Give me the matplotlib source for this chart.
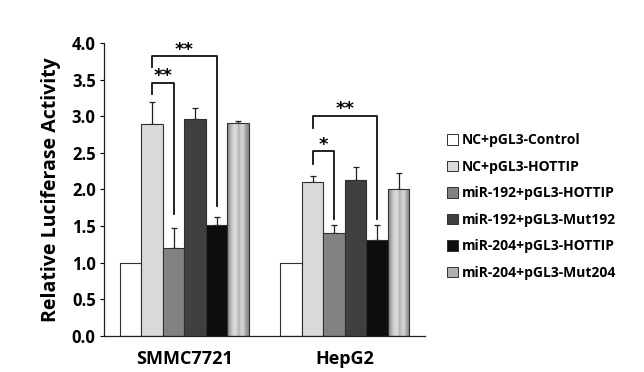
import numpy as np
import matplotlib
matplotlib.use("Agg")
import matplotlib.pyplot as plt
from matplotlib.patches import Patch

plt.rcParams['font.family'] = ['Open Sans', 'DejaVu Sans']
plt.rcParams['font.weight'] = 'bold'

cells = ["SMMC7721", "HepG2"]
groups = ["NC+pGL3-Control", "NC+pGL3-HOTTIP", "miR-192+pGL3-HOTTIP",
          "miR-192+pGL3-Mut192", "miR-204+pGL3-HOTTIP", "miR-204+pGL3-Mut204"]
smmc_vals = [1.00, 2.89, 1.20, 2.96, 1.51, 2.91]
smmc_err = [0.00, 0.31, 0.27, 0.15, 0.11, 0.03]
hepg2_vals = [1.00, 2.10, 1.40, 2.13, 1.31, 2.00]
hepg2_err = [0.00, 0.09, 0.12, 0.18, 0.21, 0.23]

# significance brackets: (cell index, bar a, bar b, y left start, y top, y right end, label)
brackets = [
    (0, 1, 2, 3.30, 3.46, 1.67, "**"),
    (0, 1, 4, 3.67, 3.82, 1.77, "**"),
    (1, 1, 2, 2.35, 2.52, 1.60, "*"),
    (1, 1, 4, 2.84, 3.01, 1.60, "**"),
]

colors = ["#ffffff", "#d9d9d9", "#828282", "#404040", "#0d0d0d", "#b0b0b0"]

fig = plt.figure(figsize=(6.44, 3.72), dpi=100)
ax = fig.add_axes([0.1615, 0.0968, 0.4985, 0.7876])

width = 0.134
x = np.arange(len(cells))
vals = [smmc_vals, hepg2_vals]
errs = [smmc_err, hepg2_err]

def bar_x(ci, bi):
    return x[ci] + (bi - 2.5) * width

# horizontal gradient for the striped last bar
grad = np.array([0.55, 0.62, 0.72, 0.80, 0.84, 0.86, 0.80, 0.70, 0.78, 0.84, 0.80, 0.70, 0.60, 0.55])
grad_img = np.tile(grad, (2, 1))

for bi in range(len(groups)):
    xs = [bar_x(ci, bi) for ci in range(len(cells))]
    hv = [vals[ci][bi] for ci in range(len(cells))]
    he = [errs[ci][bi] for ci in range(len(cells))]
    bars = ax.bar(xs, hv, width, color=colors[bi], edgecolor="#303030", linewidth=0.8, zorder=2)
    if max(he) > 0:
        ax.errorbar(xs, hv, yerr=[np.zeros(len(he)), he], fmt="none", ecolor="#202020",
                    elinewidth=0.9, capsize=2.5, capthick=0.9, zorder=1)
    if bi == 5:
        for b in bars:
            b.set_facecolor("none")
            bx, by = b.get_x(), b.get_y()
            im = ax.imshow(grad_img, cmap="gray", vmin=0, vmax=1, aspect="auto",
                           extent=[bx, bx + b.get_width(), by, by + b.get_height()],
                           interpolation="bilinear", zorder=1.5)
            im.set_clip_path(b)

for ci, a, b, y0, ytop, y1, lab in brackets:
    xa, xb = bar_x(ci, a), bar_x(ci, b)
    ax.plot([xa, xa, xb, xb], [y0, ytop, ytop, y1], color="#101010", lw=1.3, zorder=3)
    ax.text((xa + xb) / 2, ytop - 0.04, lab, ha="center", va="bottom",
            fontsize=13, fontweight="bold", family="DejaVu Sans")

ax.set_xlim(-0.5, 1.5)
ax.set_ylim(0, 4.0)
ax.set_yticks(np.arange(0, 4.01, 0.5))
ax.set_yticklabels([f"{v:.1f}" for v in np.arange(0, 4.01, 0.5)], fontsize=12, fontweight="bold")
ax.set_xticks(x)
ax.set_xticklabels(cells, fontsize=13, fontweight="bold")
ax.tick_params(axis="x", length=0, pad=10)
ax.tick_params(axis="y", length=3, width=0.8, pad=3)
ax.set_ylabel("Relative Luciferase Activity", fontsize=14, fontweight="bold", labelpad=8)
ax.spines["top"].set_visible(False)
ax.spines["right"].set_visible(False)
for s in ["left", "bottom"]:
    ax.spines[s].set_linewidth(0.9)
    ax.spines[s].set_color("#202020")

handles = [Patch(facecolor=colors[i], edgecolor="#303030", linewidth=0.7) for i in range(len(groups))]
fig.legend(handles, groups, loc="upper left", bbox_to_anchor=(0.675, 0.675),
           frameon=False, handlelength=0.75, handleheight=0.75, handletextpad=0.3,
           labelspacing=0.9, prop={"weight": "bold", "size": 10})

fig.savefig("out.png", dpi=100)
